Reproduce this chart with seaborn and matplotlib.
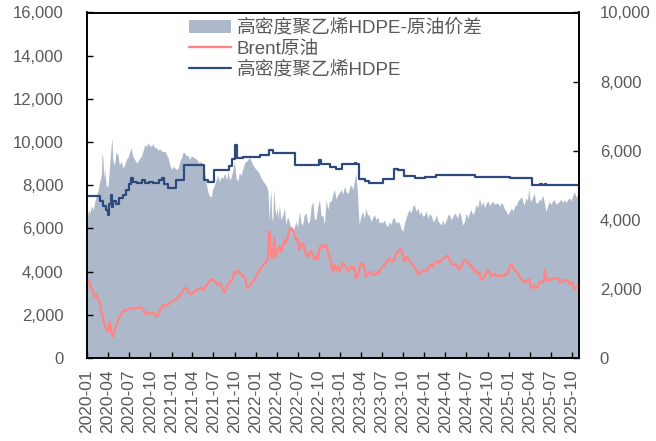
import numpy as np
import pandas as pd
import matplotlib
matplotlib.use('Agg')
import matplotlib.pyplot as plt
import matplotlib.dates as mdates
from matplotlib.ticker import MultipleLocator, FuncFormatter
from matplotlib.patches import Patch
from matplotlib.lines import Line2D
import seaborn as sns

# HDPE price (left axis), step changes
hdpe_dates = ['2020-01-02', '2020-02-25', '2020-03-10', '2020-03-25', '2020-04-01', '2020-04-07',
              '2020-04-12', '2020-04-17', '2020-04-24', '2020-05-05', '2020-05-20', '2020-06-03',
              '2020-06-17', '2020-07-01', '2020-07-08', '2020-07-20', '2020-08-05', '2020-08-27',
              '2020-09-08', '2020-09-25', '2020-10-15', '2020-11-10', '2020-11-20', '2020-12-01',
              '2020-12-15', '2021-01-20', '2021-02-22', '2021-05-20', '2021-06-10', '2021-07-05',
              '2021-09-05', '2021-09-20', '2021-10-05', '2021-10-12', '2021-11-05', '2022-01-20',
              '2022-03-01', '2022-03-15', '2022-06-20', '2022-10-01', '2022-10-10', '2022-11-20',
              '2022-12-15', '2023-01-08', '2023-03-05', '2023-03-12', '2023-03-22', '2023-04-20',
              '2023-05-05', '2023-07-08', '2023-08-22', '2023-09-10', '2023-10-03', '2023-11-22',
              '2024-01-02', '2024-02-22', '2024-08-08', '2025-01-08', '2025-04-12', '2025-05-18',
              '2025-05-25', '2025-06-05', '2025-06-12', '2025-10-31']
hdpe_vals = [7500, 7250, 7050, 6850, 6630, 7150,
             7550, 7000, 7250, 7150, 7400, 7550,
             7800, 8050, 8330, 8150, 8100, 8250,
             8100, 8150, 8100, 8250, 8330, 8050,
             7870, 8250, 8920, 8250, 8170, 8720,
             8900, 9200, 9860, 9270, 9330, 9420,
             9620, 9480, 8930, 9150, 8980, 8850,
             8760, 8980, 9050, 8980, 8300, 8200,
             8100, 8280, 8770, 8700, 8420, 8320,
             8360, 8480, 8370, 8320, 8030, 8080,
             8030, 8080, 8030, 8020]

# Brent crude (left axis)
brent_dates = [
    '2020-01-02', '2020-01-08', '2020-01-14', '2020-01-20', '2020-01-27', '2020-02-04', '2020-02-11',
    '2020-02-18', '2020-02-25', '2020-03-03', '2020-03-10', '2020-03-17', '2020-03-24', '2020-04-01',
    '2020-04-08', '2020-04-15', '2020-04-22', '2020-04-29', '2020-05-07', '2020-05-14', '2020-05-21',
    '2020-05-28', '2020-06-05', '2020-06-12', '2020-06-19', '2020-06-26', '2020-07-03', '2020-07-10',
    '2020-07-20', '2020-07-28', '2020-08-09', '2020-08-20', '2020-08-31', '2020-09-07', '2020-09-15',
    '2020-09-22', '2020-09-30', '2020-10-06', '2020-10-13', '2020-10-20', '2020-10-27', '2020-11-04',
    '2020-11-11', '2020-11-18', '2020-11-25', '2020-12-03', '2020-12-10', '2020-12-17', '2020-12-24',
    '2021-01-04', '2021-01-15', '2021-01-25', '2021-02-03', '2021-02-13', '2021-02-22', '2021-03-05',
    '2021-03-12', '2021-03-19', '2021-03-26', '2021-04-02', '2021-04-10', '2021-04-20', '2021-04-28',
    '2021-05-05', '2021-05-10', '2021-05-20', '2021-05-28', '2021-06-07', '2021-06-14', '2021-06-22',
    '2021-06-30', '2021-07-08', '2021-07-20', '2021-07-28', '2021-08-04', '2021-08-11', '2021-08-20',
    '2021-08-27', '2021-09-03', '2021-09-10', '2021-09-20', '2021-09-27', '2021-10-01', '2021-10-08',
    '2021-10-15', '2021-10-22', '2021-10-30', '2021-11-08', '2021-11-17', '2021-11-25', '2021-12-01',
    '2021-12-08', '2021-12-20', '2021-12-28',
    '2022-01-06', '2022-01-18', '2022-01-26', '2022-02-03', '2022-02-10', '2022-02-16', '2022-02-23',
    '2022-03-01', '2022-03-04', '2022-03-08', '2022-03-15', '2022-03-22', '2022-03-29', '2022-04-05',
    '2022-04-13', '2022-04-20', '2022-04-28', '2022-05-05', '2022-05-12', '2022-05-19', '2022-05-26',
    '2022-06-06', '2022-06-15', '2022-06-24', '2022-07-01', '2022-07-09', '2022-07-15', '2022-07-23',
    '2022-07-30', '2022-08-07', '2022-08-14', '2022-08-22', '2022-08-29', '2022-09-05', '2022-09-12',
    '2022-09-20', '2022-09-27', '2022-10-04', '2022-10-11', '2022-10-18', '2022-10-25', '2022-11-01',
    '2022-11-09', '2022-11-16', '2022-11-23', '2022-12-01', '2022-12-08', '2022-12-15', '2022-12-22',
    '2022-12-30',
    '2023-01-06', '2023-01-13', '2023-01-21', '2023-01-28', '2023-02-05', '2023-02-12', '2023-02-19',
    '2023-02-26', '2023-03-03', '2023-03-10', '2023-03-17', '2023-03-24', '2023-04-01', '2023-04-09',
    '2023-04-16', '2023-04-23', '2023-05-01', '2023-05-08', '2023-05-15', '2023-05-22', '2023-05-29',
    '2023-06-06', '2023-06-13', '2023-06-20', '2023-06-27', '2023-07-04', '2023-07-11', '2023-07-19',
    '2023-07-26', '2023-08-03', '2023-08-10', '2023-08-17', '2023-08-24', '2023-09-01', '2023-09-08',
    '2023-09-14', '2023-09-19', '2023-09-26', '2023-10-03', '2023-10-07', '2023-10-14', '2023-10-21',
    '2023-10-28', '2023-11-05', '2023-11-12', '2023-11-20', '2023-11-27', '2023-12-04', '2023-12-11',
    '2023-12-18', '2023-12-26',
    '2024-01-02', '2024-01-10', '2024-01-17', '2024-01-24', '2024-02-01', '2024-02-08', '2024-02-15',
    '2024-02-22', '2024-03-01', '2024-03-08', '2024-03-15', '2024-03-22', '2024-03-29', '2024-04-05',
    '2024-04-12', '2024-04-19', '2024-04-26', '2024-05-03', '2024-05-10', '2024-05-17', '2024-05-24',
    '2024-06-01', '2024-06-08', '2024-06-15', '2024-06-23', '2024-07-01', '2024-07-07', '2024-07-14',
    '2024-07-21', '2024-07-28', '2024-08-05', '2024-08-12', '2024-08-20', '2024-08-27', '2024-09-04',
    '2024-09-11', '2024-09-18', '2024-09-25', '2024-10-03', '2024-10-10', '2024-10-17', '2024-10-24',
    '2024-10-31', '2024-11-08', '2024-11-15', '2024-11-22', '2024-11-30', '2024-12-07', '2024-12-14',
    '2024-12-21', '2024-12-28',
    '2025-01-05', '2025-01-12', '2025-01-19', '2025-01-27', '2025-02-03', '2025-02-10', '2025-02-17',
    '2025-02-25', '2025-03-03', '2025-03-09', '2025-03-16', '2025-03-23', '2025-03-30', '2025-04-07',
    '2025-04-14', '2025-04-21', '2025-04-29', '2025-05-06', '2025-05-13', '2025-05-20', '2025-05-27',
    '2025-06-02', '2025-06-06', '2025-06-11', '2025-06-18', '2025-06-25', '2025-07-02', '2025-07-10',
    '2025-07-17', '2025-07-25', '2025-08-01', '2025-08-08', '2025-08-15', '2025-08-22', '2025-08-30',
    '2025-09-07', '2025-09-14', '2025-09-21', '2025-09-28', '2025-10-05', '2025-10-12', '2025-10-19',
    '2025-10-26', '2025-10-31']
brent_vals = [
    3540, 3600, 3400, 3230, 3050, 2840, 2950,
    2700, 2600, 2150, 1900, 1530, 1350, 1220,
    1680, 1200, 990, 1250, 1530, 1700, 1920,
    2000, 2150, 2230, 2200, 2250, 2280, 2300,
    2280, 2320, 2320, 2350, 2250, 2060, 2100,
    2000, 2080, 2060, 2100, 2050, 1910, 2000,
    2200, 2300, 2450, 2420, 2480, 2460, 2550,
    2650, 2690, 2750, 2850, 3000, 3150, 3260,
    3150, 3000, 2950, 3000, 3070, 3150, 3200,
    3250, 3230, 3150, 3300, 3420, 3550, 3660,
    3600, 3550, 3390, 3450, 3400, 3160, 3050,
    3250, 3420, 3480, 3600, 3800, 4000, 3950,
    4050, 4000, 3850, 3800, 3650, 3230, 3300,
    3400, 3540, 3650,
    3850, 4080, 4200, 4300, 4400, 4470, 4700,
    5860, 5200, 4780, 4600, 5550, 4700, 5000,
    5160, 4900, 5200, 5470, 5300, 5600, 5940,
    6010, 5800, 5470, 5500, 5010, 5200, 5320,
    5100, 4780, 4700, 4860, 4950, 4800, 4550,
    4700, 4600, 5090, 5200, 5100, 5200, 5250,
    4940, 4700, 4400, 4000, 4320, 4100, 4250,
    4000,
    4200, 4390, 4300, 4200, 4000, 4100, 4240,
    4150, 4200, 3700, 3750, 4000, 4390, 4350,
    4200, 3780, 3850, 3950, 4000, 3850, 3900,
    3850, 4000, 3950, 4160, 4200, 4300, 4400,
    4550, 4600, 4500, 4470, 4550, 4860, 4900,
    5000, 5070, 4900, 4600, 4470, 4700, 4630,
    4500, 4400, 4320, 4150, 4100, 3850, 3900,
    4000, 4050,
    4080, 4000, 4150, 4250, 4320, 4250, 4400,
    4450, 4470, 4400, 4550, 4600, 4650, 4700,
    4750, 4550, 4390, 4300, 4350, 4320, 4200,
    4080, 4250, 4400, 4550, 4500, 4450, 4320,
    4300, 4150, 4000, 4100, 3900, 3950, 3620,
    3700, 3750, 3930, 4050, 3950, 3800, 3850,
    3900, 3800, 3780, 3850, 3800, 3780, 3890,
    3850, 3950,
    4240, 4350, 4200, 4050, 4000, 3900, 3800,
    3620, 3600, 3500, 3600, 3540, 3650, 3310,
    3250, 3350, 3230, 3300, 3500, 3540, 3500,
    3600, 4080, 3750, 3600, 3600, 3650, 3700,
    3700, 3650, 3700, 3540, 3500, 3550, 3620,
    3600, 3550, 3420, 3500, 3400, 3230, 3250,
    3300, 3310]

# HDPE - crude spread (right axis)
spread_dates = [
    '2020-01-02', '2020-01-08', '2020-01-13', '2020-01-20', '2020-01-28', '2020-02-04', '2020-02-11',
    '2020-02-18', '2020-02-25', '2020-03-03', '2020-03-06', '2020-03-10', '2020-03-13', '2020-03-17',
    '2020-03-24', '2020-04-01', '2020-04-08', '2020-04-15', '2020-04-18', '2020-04-22', '2020-04-29',
    '2020-05-06', '2020-05-14', '2020-05-20', '2020-05-28', '2020-06-04', '2020-06-12', '2020-06-19',
    '2020-06-26', '2020-07-03', '2020-07-10', '2020-07-17', '2020-07-25', '2020-08-02', '2020-08-09',
    '2020-08-16', '2020-08-24', '2020-08-31', '2020-09-07', '2020-09-14', '2020-09-21', '2020-09-28',
    '2020-10-06', '2020-10-13', '2020-10-20', '2020-10-27', '2020-11-04', '2020-11-12', '2020-11-20',
    '2020-12-03', '2020-12-10', '2020-12-17', '2020-12-24',
    '2021-01-01', '2021-01-08', '2021-01-15', '2021-01-22', '2021-01-30', '2021-02-06', '2021-02-13',
    '2021-02-20', '2021-02-27', '2021-03-05', '2021-03-12', '2021-03-20', '2021-03-28', '2021-04-10',
    '2021-04-20', '2021-04-30', '2021-05-10', '2021-05-17', '2021-05-24', '2021-05-31', '2021-06-07',
    '2021-06-14', '2021-06-22', '2021-06-29', '2021-07-06', '2021-07-13', '2021-07-20', '2021-07-28',
    '2021-08-04', '2021-08-11', '2021-08-20', '2021-08-27', '2021-09-03', '2021-09-10', '2021-09-17',
    '2021-09-24', '2021-10-01', '2021-10-08', '2021-10-15', '2021-10-22', '2021-10-30', '2021-11-07',
    '2021-11-14', '2021-11-21', '2021-11-28', '2021-12-05', '2021-12-12', '2021-12-20', '2021-12-28',
    '2022-01-04', '2022-01-11', '2022-01-18', '2022-01-25', '2022-02-02', '2022-02-09', '2022-02-16',
    '2022-02-23', '2022-03-01', '2022-03-04', '2022-03-08', '2022-03-11', '2022-03-15', '2022-03-18',
    '2022-03-22', '2022-03-25', '2022-03-29', '2022-04-05', '2022-04-08', '2022-04-13', '2022-04-20',
    '2022-04-28', '2022-05-05', '2022-05-12', '2022-05-19', '2022-05-26', '2022-06-02', '2022-06-10',
    '2022-06-17', '2022-06-24', '2022-07-01', '2022-07-09', '2022-07-16', '2022-07-23', '2022-07-30',
    '2022-08-07', '2022-08-14', '2022-08-22', '2022-08-29', '2022-09-05', '2022-09-12', '2022-09-20',
    '2022-09-27', '2022-10-04', '2022-10-11', '2022-10-18', '2022-10-25', '2022-11-02', '2022-11-09',
    '2022-11-16', '2022-11-23', '2022-12-01', '2022-12-08', '2022-12-15', '2022-12-22',
    '2023-01-06', '2023-01-13', '2023-01-21', '2023-01-28', '2023-02-05', '2023-02-12', '2023-02-19',
    '2023-02-26', '2023-03-03', '2023-03-10', '2023-03-17', '2023-03-21', '2023-03-25', '2023-04-01',
    '2023-04-09', '2023-04-16', '2023-04-23', '2023-04-30', '2023-05-07', '2023-05-15', '2023-05-22',
    '2023-05-30', '2023-06-06', '2023-06-13', '2023-06-20', '2023-06-27', '2023-07-04', '2023-07-11',
    '2023-07-19', '2023-07-26', '2023-08-03', '2023-08-10', '2023-08-17', '2023-08-24', '2023-09-01',
    '2023-09-08', '2023-09-15', '2023-09-22', '2023-09-30', '2023-10-07', '2023-10-14', '2023-10-21',
    '2023-10-28', '2023-11-05', '2023-11-12', '2023-11-19', '2023-11-26', '2023-12-04', '2023-12-11',
    '2023-12-18', '2023-12-25',
    '2024-01-02', '2024-01-09', '2024-01-16', '2024-01-24', '2024-02-01', '2024-02-08', '2024-02-15',
    '2024-02-22', '2024-03-01', '2024-03-07', '2024-03-14', '2024-03-21', '2024-03-28', '2024-04-05',
    '2024-04-12', '2024-04-19', '2024-04-26', '2024-05-03', '2024-05-10', '2024-05-17', '2024-05-24',
    '2024-06-01', '2024-06-08', '2024-06-15', '2024-06-23', '2024-06-30', '2024-07-07', '2024-07-14',
    '2024-07-21', '2024-07-28', '2024-08-05', '2024-08-12', '2024-08-20', '2024-08-27', '2024-09-04',
    '2024-09-11', '2024-09-18', '2024-09-25', '2024-10-03', '2024-10-10', '2024-10-17', '2024-10-24',
    '2024-10-31', '2024-11-08', '2024-11-15', '2024-11-22', '2024-11-30', '2024-12-07', '2024-12-14',
    '2024-12-21', '2024-12-28',
    '2025-01-05', '2025-01-12', '2025-01-19', '2025-01-27', '2025-02-03', '2025-02-10', '2025-02-17',
    '2025-02-25', '2025-03-03', '2025-03-09', '2025-03-16', '2025-03-23', '2025-03-28', '2025-04-02',
    '2025-04-07', '2025-04-14', '2025-04-21', '2025-04-28', '2025-05-06', '2025-05-13', '2025-05-20',
    '2025-05-27', '2025-06-04', '2025-06-11', '2025-06-18', '2025-06-25', '2025-07-02', '2025-07-10',
    '2025-07-17', '2025-07-25', '2025-08-01', '2025-08-08', '2025-08-15', '2025-08-22', '2025-08-30',
    '2025-09-07', '2025-09-14', '2025-09-21', '2025-09-28', '2025-10-05', '2025-10-12', '2025-10-19',
    '2025-10-26', '2025-10-31']
spread_vals = [
    4050, 4300, 4190, 4400, 4300, 4530, 4700,
    4850, 5100, 5300, 5900, 5800, 5200, 5500,
    5000, 4950, 5600, 6170, 6370, 5700, 5590,
    5950, 5880, 5600, 5690, 5500, 5590, 5750,
    5800, 5950, 6080, 5850, 5750, 5650, 5690,
    5780, 5850, 6000, 6170, 6120, 6230, 6150,
    6130, 6200, 6080, 6100, 6020, 6050, 5980,
    5980, 5900, 5800, 5600,
    5460, 5550, 5500, 5450, 5500, 5700, 5800,
    5950, 5940, 5850, 5880, 5750, 5850, 5800,
    5750, 5650, 5690, 5550, 5400, 5100, 4820,
    4700, 4660, 4900, 5000, 5150, 5300, 5100,
    5250, 5200, 5350, 5150, 5400, 5150, 5250,
    5450, 5690, 5200, 5120, 5350, 5300, 5500,
    5650, 5690, 5750, 5800, 5700, 5590, 5500,
    5450, 5400, 5300, 5200, 5120, 5050, 4980,
    4830, 3950, 4600, 4830, 4100, 3950, 4500,
    4880, 4300, 4140, 4350, 4000, 4430, 4000,
    4140, 4350, 3860, 4100, 3950, 3750, 3570,
    3800, 3950, 3800, 4240, 3900, 3860, 4150,
    4190, 3900, 3950, 4400, 4530, 4000, 4050,
    4400, 4580, 4100, 4140, 3860, 4580, 4300,
    4530, 4530, 4750, 4870, 4600, 4720,
    4870, 4750, 4970, 4800, 4770, 4950, 5020,
    4850, 5070, 5350, 4820, 4300, 3860, 4100,
    4240, 4050, 4340, 4150, 4140, 3950, 4050,
    4150, 4000, 4090, 3900, 3950, 3910, 4000,
    3860, 3800, 3950, 3850, 4050, 4050, 3900,
    3950, 3910, 3750, 3660, 3900, 4050, 4200,
    4290, 4200, 4400, 4430, 4250, 4340, 4150,
    4240, 4100,
    4140, 4250, 4050, 4190, 4100, 3950, 4000,
    4150, 3950, 3910, 3850, 4000, 3860, 4000,
    4140, 4150, 4000, 4090, 4200, 4150, 4050,
    4240, 4100, 3850, 3950, 4200, 4050, 4190,
    4300, 4150, 4240, 4450, 4350, 4630, 4400,
    4530, 4350, 4480, 4550, 4400, 4500, 4530,
    4450, 4480, 4480, 4400, 4500, 4430, 4300,
    4250, 4140,
    4250, 4340, 4250, 4400, 4430, 4550, 4600,
    4680, 4500, 4430, 4650, 4550, 4920, 4600,
    4530, 4650, 4770, 4500, 4480, 4600, 4550,
    4720, 4500, 4240, 4400, 4530, 4450, 4550,
    4580, 4450, 4500, 4530, 4600, 4500, 4580,
    4500, 4600, 4630, 4550, 4700, 4820, 4650,
    4750, 4720]

label_spread = '高密度聚乙烯HDPE-原油价差'
label_brent = 'Brent原油'
label_hdpe = '高密度聚乙烯HDPE'

c_spread = '#ADB9CA'
c_brent = '#FF8585'
c_hdpe = '#2E4A7D'
c_text = '#595959'

hdpe = pd.DataFrame({'date': pd.to_datetime(hdpe_dates), 'v': hdpe_vals})
brent = pd.DataFrame({'date': pd.to_datetime(brent_dates), 'v': brent_vals})
spread = pd.DataFrame({'date': pd.to_datetime(spread_dates), 'v': spread_vals})

sns.set_theme(style='white')
plt.rcParams['font.family'] = ['Liberation Sans', 'Noto Sans CJK SC', 'DejaVu Sans']

fig = plt.figure(figsize=(6.56, 4.41), dpi=100)
ax = fig.add_axes([87/656, 1-358/441, (579-87)/656, (358-12.5)/441])
ax2 = ax.twinx()

ax2.fill_between(spread['date'], spread['v'], 0, color=c_spread, lw=0)

sns.lineplot(data=brent, x='date', y='v', ax=ax, color=c_brent, lw=1.7)
sns.lineplot(data=hdpe, x='date', y='v', ax=ax, color=c_hdpe, lw=1.6, drawstyle='steps-post')

ax.set_zorder(ax2.get_zorder() + 1)
ax.patch.set_visible(False)

ax.set_ylim(0, 16000)
ax2.set_ylim(0, 10000)
ax.set_xlim(pd.Timestamp('2020-01-01'), pd.Timestamp('2025-11-01'))
ax.yaxis.set_major_locator(MultipleLocator(2000))
ax2.yaxis.set_major_locator(MultipleLocator(2000))
fmt = FuncFormatter(lambda v, p: f'{int(v):,}')
ax.yaxis.set_major_formatter(fmt)
ax2.yaxis.set_major_formatter(fmt)
ax.xaxis.set_major_locator(mdates.MonthLocator(bymonth=[1, 4, 7, 10]))
ax.xaxis.set_major_formatter(mdates.DateFormatter('%Y-%m'))
ax.set_xlabel('')
ax.set_ylabel('')
ax2.set_ylabel('')

ax.tick_params(axis='y', direction='in', length=4.5, width=1, color='black',
               labelsize=12, labelcolor=c_text, pad=17, left=True)
ax.tick_params(axis='x', direction='in', length=4.5, width=1, color='black',
               labelsize=12.5, labelcolor=c_text, pad=8, bottom=True, labelrotation=90)
ax2.tick_params(axis='y', direction='in', length=4.5, width=1, color='black',
                labelsize=12, labelcolor=c_text, pad=15, right=True)

for a in (ax, ax2):
    for s in a.spines.values():
        s.set_color('black')
        s.set_linewidth(1.2)
        s.set_visible(True)

handles = [Patch(facecolor=c_spread, edgecolor='none'),
           Line2D([], [], color=c_brent, lw=1.7),
           Line2D([], [], color=c_hdpe, lw=1.6)]
leg = ax.legend(handles, [label_spread, label_brent, label_hdpe],
                loc='upper left', bbox_to_anchor=(189/656, 1-19/441),
                bbox_transform=fig.transFigure, frameon=False, fontsize=13.5,
                handlelength=2.25, handletextpad=0.28, labelspacing=0.2,
                borderpad=0, borderaxespad=0)
for t in leg.get_texts():
    t.set_color(c_text)

fig.savefig('out.png', dpi=100)
